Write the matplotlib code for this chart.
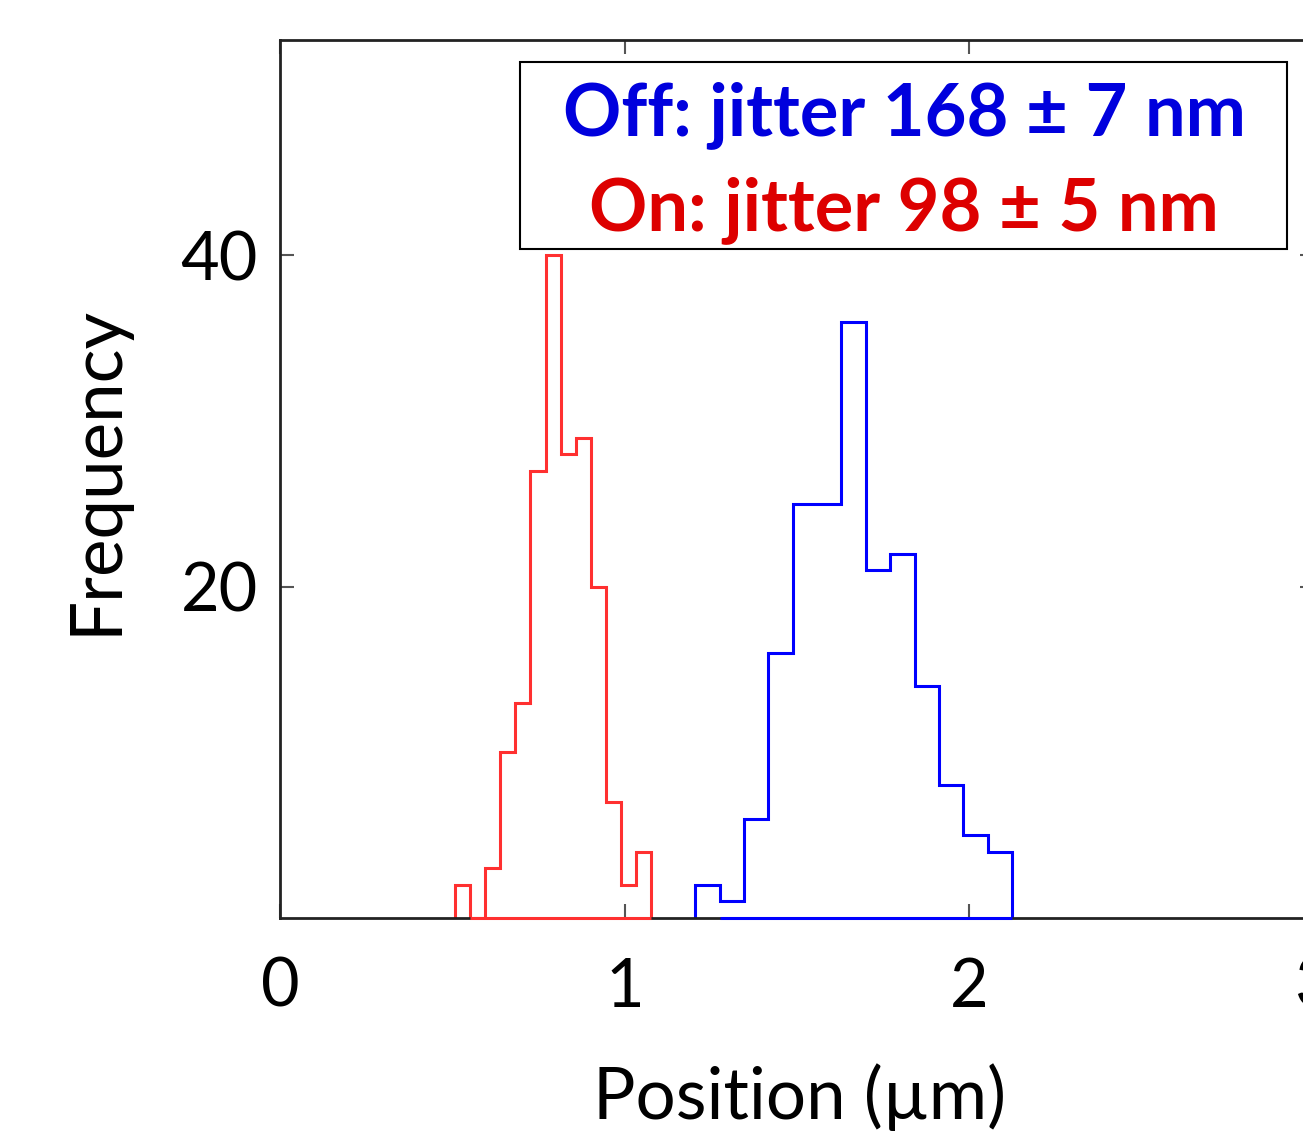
import numpy as np
import matplotlib.pyplot as plt
from matplotlib.patches import Rectangle

# histogram counts (stairs outline)
on_start, on_width = 0.508, 0.0438
on_counts = [2, 0, 3, 10, 13, 27, 40, 28, 29, 20, 7, 2, 4]
off_start, off_width = 1.205, 0.0708
off_counts = [2, 1, 6, 16, 25, 25, 36, 21, 22, 14, 8, 5, 4]

off_label = 'Off: jitter 168 ± 7 nm'
on_label = 'On: jitter 98 ± 5 nm'

on_edges = on_start + on_width * np.arange(len(on_counts) + 1)
off_edges = off_start + off_width * np.arange(len(off_counts) + 1)

plt.rcParams['font.family'] = ['Lato', 'DejaVu Sans']

fig = plt.figure(figsize=(13.03, 11.38), dpi=100)
W, H = 1303, 1138
# axes run past the right edge of the picture (cropped like the original)
ax = fig.add_axes([280 / W, (H - 918) / H, 1033.5 / W, 878 / H])

ax.stairs(on_counts, on_edges, color='#ff3030', linewidth=2.2)
ax.stairs(off_counts, off_edges, color='#0000ff', linewidth=2.2)
# bottom line of the stairs outline, as MATLAB draws it
ax.hlines(0, on_edges[1], on_edges[-1], color='#ff3030', linewidth=2.2, clip_on=False, zorder=3)
ax.hlines(0, off_edges[1], off_edges[-1], color='#0000ff', linewidth=2.2, clip_on=False, zorder=3)

ax.set_xlim(0, 3)
ax.set_ylim(0, 53)
ax.set_xticks([0, 1, 2, 3])
ax.set_yticks([20, 40])
ax.tick_params(direction='in', length=10, width=1.5, color='#555555',
               labelsize=48, top=True, right=True, pad=28)
ax.tick_params(axis='y', pad=16)
for s in ax.spines.values():
    s.set_linewidth(2)
    s.set_color('#222222')

ax.set_xlabel('Position (µm)', fontsize=51)
ax.set_ylabel('Frequency', fontsize=51)
ax.xaxis.set_label_coords(0.503, -0.165)
ax.yaxis.set_label_coords(-0.147, 0.51)

# legend box with two coloured lines
ax.add_patch(Rectangle((0.232, 0.762), 0.742, 0.213, transform=ax.transAxes,
                       facecolor='white', edgecolor='black', linewidth=1.5, zorder=4))
ax.text(0.604, 0.892, off_label, transform=ax.transAxes, ha='center', va='baseline',
        fontsize=52, fontweight='bold', color='#0000dd', zorder=5)
ax.text(0.604, 0.784, on_label, transform=ax.transAxes, ha='center', va='baseline',
        fontsize=52, fontweight='bold', color='#dd0000', zorder=5)

fig.savefig('out.png', dpi=100)
